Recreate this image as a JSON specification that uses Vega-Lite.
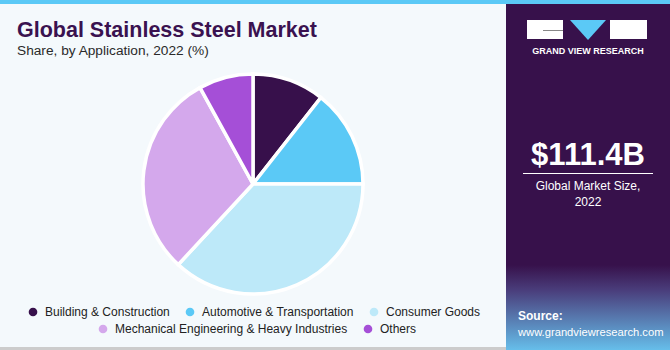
{
  "$schema": "https://vega.github.io/schema/vega-lite/v6.json",
  "width": 670,
  "height": 350,
  "autosize": {"type": "fit", "contains": "padding"},
  "padding": 0,
  "background": "#F4F9FC",
  "config": {"view": {"stroke": null}, "font": "Liberation Sans"},
  "data": {"values": [
    {"application": "Building & Construction", "share": 10.6},
    {"application": "Automotive & Transportation", "share": 14.4},
    {"application": "Consumer Goods", "share": 36.9},
    {"application": "Mechanical Engineering & Heavy Industries", "share": 30.1},
    {"application": "Others", "share": 8.0}
  ]},
  "transform": [{"window": [{"op": "row_number", "as": "rank"}]}],
  "resolve": {"scale": {"color": "independent", "theta": "independent"}, "legend": {"color": "independent"}},
  "layer": [
    {
      "mark": {"type": "arc", "outerRadius": 110, "stroke": "#FFFFFF", "strokeWidth": 3.5},
      "encoding": {
        "x": {"value": 253},
        "y": {"value": 184},
        "theta": {"field": "share", "type": "quantitative", "stack": true},
        "order": {"field": "rank", "type": "quantitative"},
        "color": {"field": "application", "type": "nominal", "legend": null,
          "scale": {"domain": ["Building & Construction", "Automotive & Transportation", "Consumer Goods", "Mechanical Engineering & Heavy Industries", "Others"],
                    "range": ["#37104B", "#5BC9F6", "#BDE9F9", "#D4A8EC", "#A54FD7"]}}
      }
    },
    {
      "transform": [{"filter": "datum.rank <= 3"}],
      "mark": {"type": "arc", "opacity": 0, "outerRadius": 1},
      "encoding": {
        "x": {"value": 253},
        "y": {"value": 184},
        "theta": {"field": "share", "type": "quantitative"},
        "color": {"field": "application", "type": "nominal", "sort": ["Building & Construction", "Automotive & Transportation", "Consumer Goods"],
          "scale": {"domain": ["Building & Construction", "Automotive & Transportation", "Consumer Goods"], "range": ["#37104B", "#5BC9F6", "#BDE9F9"]},
          "legend": {"orient": "none", "legendX": 27, "legendY": 306, "direction": "horizontal", "title": null,
            "symbolType": "circle", "symbolSize": 75, "symbolOpacity": 1, "symbolStrokeWidth": 0,
            "labelFontSize": 12, "labelColor": "#222222", "labelOffset": 6, "columnPadding": 14, "labelLimit": 400}}
      }
    },
    {
      "transform": [{"filter": "datum.rank > 3"}],
      "mark": {"type": "arc", "opacity": 0, "outerRadius": 1},
      "encoding": {
        "x": {"value": 253},
        "y": {"value": 184},
        "theta": {"field": "share", "type": "quantitative"},
        "color": {"field": "application", "type": "nominal", "sort": ["Mechanical Engineering & Heavy Industries", "Others"],
          "scale": {"domain": ["Mechanical Engineering & Heavy Industries", "Others"], "range": ["#D4A8EC", "#A54FD7"]},
          "legend": {"orient": "none", "legendX": 97, "legendY": 323, "direction": "horizontal", "title": null,
            "symbolType": "circle", "symbolSize": 75, "symbolOpacity": 1, "symbolStrokeWidth": 0,
            "labelFontSize": 12, "labelColor": "#222222", "labelOffset": 6, "columnPadding": 14, "labelLimit": 400}}
      }
    },
    {
      "data": {"values": [{}]},
      "mark": {"type": "rect", "color": "#37114B"},
      "encoding": {"x": {"value": 506}, "x2": {"value": 670}, "y": {"value": 0}, "y2": {"value": 350}}
    },
    {
      "data": {"values": [{}]},
      "mark": {"type": "rect", "color": {"gradient": "linear", "x1": 0, "y1": 0, "x2": 0, "y2": 1,
        "stops": [{"offset": 0, "color": "#37114B"}, {"offset": 0.3, "color": "#4A3E7C"}, {"offset": 1, "color": "#66BEEA"}]}},
      "encoding": {"x": {"value": 506}, "x2": {"value": 670}, "y": {"value": 265}, "y2": {"value": 350}}
    },
    {
      "data": {"values": [{}]},
      "mark": {"type": "rect", "color": "#5BC9F6"},
      "encoding": {"x": {"value": 0}, "x2": {"value": 670}, "y": {"value": 0}, "y2": {"value": 4}}
    },
    {
      "data": {"values": [{}]},
      "mark": {"type": "rect", "color": "#CCCCCC"},
      "encoding": {"x": {"value": 0}, "x2": {"value": 506}, "y": {"value": 347}, "y2": {"value": 350}}
    },
    {
      "data": {"values": [{}]},
      "mark": {"type": "rect", "color": "#FFFFFF"},
      "encoding": {"x": {"value": 527}, "x2": {"value": 563}, "y": {"value": 20}, "y2": {"value": 39}}
    },
    {
      "data": {"values": [{}]},
      "mark": {"type": "rule", "color": "#888888", "strokeWidth": 1},
      "encoding": {"x": {"value": 543}, "x2": {"value": 563}, "y": {"value": 30.5}}
    },
    {
      "data": {"values": [{}]},
      "mark": {"type": "rect", "color": "#FFFFFF"},
      "encoding": {"x": {"value": 610}, "x2": {"value": 647}, "y": {"value": 20}, "y2": {"value": 39}}
    },
    {
      "data": {"values": [{}]},
      "mark": {"type": "point", "shape": "M-1,-0.55L1,-0.55L0,0.55Z", "filled": true, "color": "#5BC9F6", "opacity": 1, "size": 1300},
      "encoding": {"x": {"value": 588}, "y": {"value": 30}}
    },
    {
      "data": {"values": [{}]},
      "mark": {"type": "text", "text": "GRAND VIEW RESEARCH", "color": "#FFFFFF", "fontSize": 9, "fontWeight": "bold", "align": "center", "baseline": "alphabetic", "letterSpacing": 1.6},
      "encoding": {"x": {"value": 588}, "y": {"value": 54}}
    },
    {
      "data": {"values": [{}]},
      "mark": {"type": "text", "text": "$111.4B", "color": "#FFFFFF", "fontSize": 31, "fontWeight": "bold", "align": "center", "baseline": "alphabetic", "letterSpacing": 1.8},
      "encoding": {"x": {"value": 588}, "y": {"value": 165}}
    },
    {
      "data": {"values": [{}]},
      "mark": {"type": "rule", "color": "#FFFFFF", "strokeWidth": 1},
      "encoding": {"x": {"value": 523}, "x2": {"value": 653}, "y": {"value": 173.5}}
    },
    {
      "data": {"values": [{}]},
      "mark": {"type": "text", "text": ["Global Market Size,", "2022"], "color": "#FFFFFF", "fontSize": 12, "lineHeight": 16, "align": "center", "baseline": "alphabetic"},
      "encoding": {"x": {"value": 588}, "y": {"value": 190}}
    },
    {
      "data": {"values": [{}]},
      "mark": {"type": "text", "text": "Source:", "color": "#FFFFFF", "fontSize": 12, "fontWeight": "bold", "align": "left", "baseline": "alphabetic"},
      "encoding": {"x": {"value": 518}, "y": {"value": 320}}
    },
    {
      "data": {"values": [{}]},
      "mark": {"type": "text", "text": "www.grandviewresearch.com", "color": "#FFFFFF", "fontSize": 11.2, "align": "left", "baseline": "alphabetic", "letterSpacing": -0.65},
      "encoding": {"x": {"value": 518}, "y": {"value": 336}}
    },
    {
      "data": {"values": [{}]},
      "mark": {"type": "text", "text": "Global Stainless Steel Market", "color": "#3A1250", "fontSize": 21.5, "fontWeight": "bold", "align": "left", "baseline": "alphabetic"},
      "encoding": {"x": {"value": 17}, "y": {"value": 37}}
    },
    {
      "data": {"values": [{}]},
      "mark": {"type": "text", "text": "Share, by Application, 2022 (%)", "color": "#2A2A2A", "fontSize": 13.7, "align": "left", "baseline": "alphabetic"},
      "encoding": {"x": {"value": 17}, "y": {"value": 55}}
    }
  ]
}
